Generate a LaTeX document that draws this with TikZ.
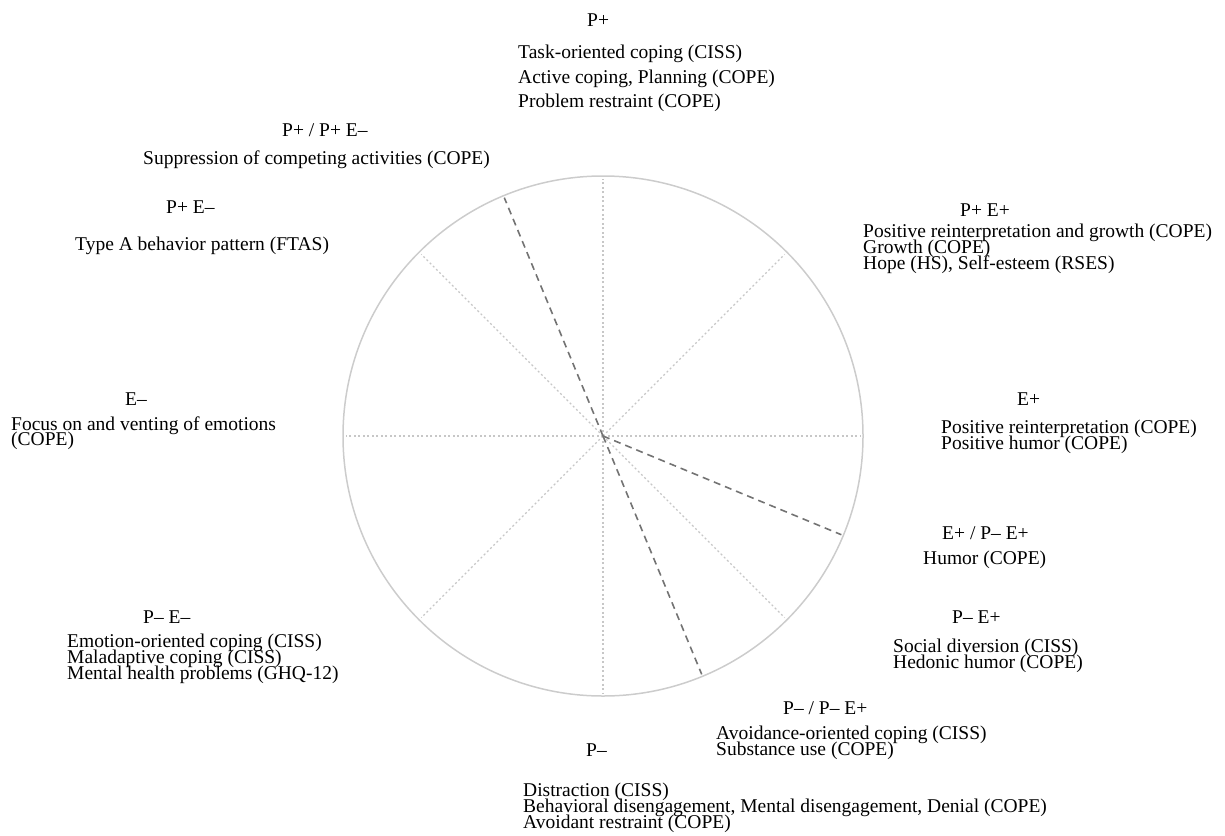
\documentclass[tikz,border=0pt]{standalone}
\usepackage{fontspec}
\setmainfont{Liberation Serif}
\begin{document}
\begin{tikzpicture}[x=1pt,y=-1pt,
  lbl/.style={anchor=base west, inner sep=0pt, font=\fontsize{19.5}{19.5}\selectfont},
  rim/.style={draw=black!20, line width=1.5pt},
  spoke/.style={draw=black!22, line width=1.1pt, dash pattern=on 2pt off 2.5pt},
  split/.style={draw=black!55, line width=1.6pt, dash pattern=on 7pt off 5pt}]
\useasboundingbox (0,0) rectangle (1225,835);

% circle with eight dotted spokes and three dashed dividers
\coordinate (c) at (603,436);
\draw[rim] (c) circle[radius=260pt];
\foreach \a in {0,45,...,315} \draw[spoke] (c) -- ++(\a:257pt);
\foreach \a in {112.5,-22.5,-67.5} \draw[split] (c) -- ++(\a:258pt);

% top: P+
\node[lbl] (hP) at (587,27) {P+};
\node[lbl] (p1) at (518,58) {Task-oriented coping (CISS)};
\node[lbl] (p2) at (518,83) {Active coping, Planning (COPE)};
\node[lbl] (p3) at (518,107) {Problem restraint (COPE)};

% upper left
\node[lbl] (hPPE) at (282,136) {P+ / P+ E–};
\node[lbl] (q1) at (143,164) {Suppression of competing activities (COPE)};
\node[lbl] (hPEm) at (166,213) {P+ E–};
\node[lbl] (r1) at (75,250) {Type A behavior pattern (FTAS)};

% upper right
\node[lbl] (hPEp) at (960,216) {P+ E+};
\node[lbl] (s1) at (863,237) {Positive reinterpretation and growth (COPE)};
\node[lbl] (s2) at (863,253) {Growth (COPE)};
\node[lbl] (s3) at (863,269) {Hope (HS), Self-esteem (RSES)};

% left: E-
\node[lbl] (hEm) at (125,405) {E–};
\node[lbl] (t1) at (11,430) {Focus on and venting of emotions};
\node[lbl] (t2) at (11,445) {(COPE)};

% right: E+
\node[lbl] (hEp) at (1017,405) {E+};
\node[lbl] (u1) at (941,433) {Positive reinterpretation (COPE)};
\node[lbl] (u2) at (941,449) {Positive humor (COPE)};

% lower right
\node[lbl] (hEPE) at (942,539) {E+ / P– E+};
\node[lbl] (v1) at (923,564) {Humor (COPE)};
\node[lbl] (hPmEp) at (952,623) {P– E+};
\node[lbl] (w1) at (893,652) {Social diversion (CISS)};
\node[lbl] (w2) at (893,668) {Hedonic humor (COPE)};

% lower left
\node[lbl] (hPmEm) at (143,623) {P– E–};
\node[lbl] (x1) at (67,647) {Emotion-oriented coping (CISS)};
\node[lbl] (x2) at (67,663) {Maladaptive coping (CISS)};
\node[lbl] (x3) at (67,679) {Mental health problems (GHQ-12)};

% bottom right
\node[lbl] (hPPm) at (783,714) {P– / P– E+};
\node[lbl] (y1) at (716,739) {Avoidance-oriented coping (CISS)};
\node[lbl] (y2) at (716,755) {Substance use (COPE)};

% bottom: P-
\node[lbl] (hPm) at (586,756) {P–};
\node[lbl] (z1) at (523,796) {Distraction (CISS)};
\node[lbl] (z2) at (523,812) {Behavioral disengagement, Mental disengagement, Denial (COPE)};
\node[lbl] (z3) at (523,828) {Avoidant restraint (COPE)};
\end{tikzpicture}
\end{document}
